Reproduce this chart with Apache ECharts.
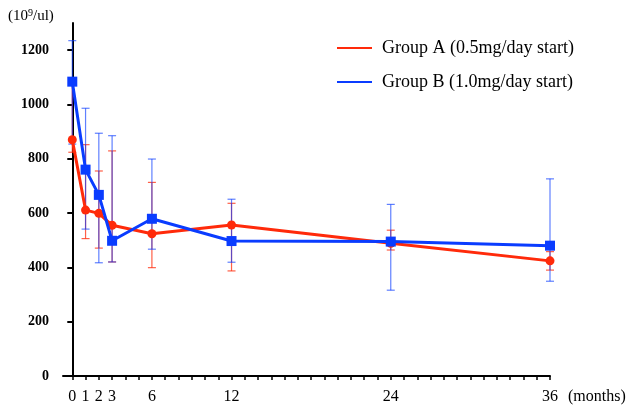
<!DOCTYPE html>
<html>
<head>
<meta charset="utf-8">
<script src="https://cdn.jsdelivr.net/npm/echarts@6/dist/echarts.min.js"></script>
<style>html,body{margin:0;padding:0;background:#fff;}</style>
</head>
<body>
<div id="main" style="width:630px;height:409px;"></div>
<script type="text/javascript">
    // data
    var months = [0, 1, 2, 3, 6, 12, 24, 36];
    var groupA = [870, 611, 599, 555, 524, 556, 489, 424];
    var groupALow = [824, 506, 471, 420, 399, 387, 464, 390];
    var groupAHigh = [1075, 852, 755, 829, 713, 636, 537, 458];
    var groupB = [1084, 760, 667, 498, 579, 497, 495, 480];
    var groupBLow = [854, 541, 417, 420, 467, 419, 316, 349];
    var groupBHigh = [1235, 986, 894, 885, 799, 651, 632, 726];
    var yTicks = [0, 200, 400, 600, 800, 1000, 1200];
    var xTicks = [];
    for (var t = 0; t <= 36; t++) xTicks.push(t);

    var FONT = '"Liberation Serif", "Times New Roman", serif';
    var RED = '#ff2a0a';
    var BLUE = '#0a3cff';

    function errorBars(low, high, color) {
        return {
            type: 'custom',
            silent: true,
            z: 1,
            encode: { x: 0, y: [1, 2] },
            data: months.map(function (m, i) { return [m, low[i], high[i]]; }),
            renderItem: function (params, api) {
                var x = api.value(0);
                var lo = api.coord([x, api.value(1)]);
                var hi = api.coord([x, api.value(2)]);
                var w = 4;
                var st = { stroke: color, lineWidth: 1.2 };
                return {
                    type: 'group',
                    children: [
                        { type: 'line', shape: { x1: lo[0], y1: lo[1], x2: hi[0], y2: hi[1] }, style: st },
                        { type: 'line', shape: { x1: lo[0] - w, y1: lo[1], x2: lo[0] + w, y2: lo[1] }, style: st },
                        { type: 'line', shape: { x1: hi[0] - w, y1: hi[1], x2: hi[0] + w, y2: hi[1] }, style: st }
                    ]
                };
            }
        };
    }

    var myChart = echarts.init(document.getElementById('main'));

    var option = {
        animation: false,
        textStyle: { fontFamily: FONT },
        grid: { left: 63, right: 80, top: 23, bottom: 33 },
        legend: {
            data: ['Group A (0.5mg/day start)', 'Group B (1.0mg/day start)'],
            orient: 'vertical',
            left: 332,
            top: 34,
            icon: 'rect',
            itemWidth: 35,
            itemHeight: 2,
            itemGap: 16,
            textStyle: { fontFamily: FONT, fontSize: 18, color: '#000', padding: [0, 0, 0, 5] }
        },
        graphic: [
            {
                type: 'text', left: 8, top: 8,
                style: {
                    text: '({a|10}{s|9}{a|/ul)}',
                    rich: {
                        a: { fontFamily: FONT, fontSize: 15, fill: '#000' },
                        s: { fontFamily: FONT, fontSize: 10, fill: '#000', verticalAlign: 'top', padding: [0, 0, 6, 0] }
                    },
                    font: '15px ' + FONT, fill: '#000'
                }
            },
            {
                type: 'text', left: 568, top: 389,
                style: { text: '(months)', font: '16px ' + FONT, fill: '#000' }
            }
        ],
        xAxis: {
            type: 'value',
            min: -0.7,
            max: 36,
            splitLine: { show: false },
            axisLine: { onZero: false, lineStyle: { color: '#000', width: 2 } },
            axisTick: { customValues: xTicks, length: 4, lineStyle: { color: '#000', width: 1.5 } },
            axisLabel: { customValues: months, margin: 13, fontSize: 16, color: '#000', fontFamily: FONT }
        },
        yAxis: {
            type: 'value',
            min: 0,
            max: 1300,
            splitLine: { show: false },
            axisLine: { show: true, lineStyle: { color: '#000', width: 2 } },
            axisTick: { show: true, customValues: yTicks, length: 5, lineStyle: { color: '#000', width: 2 } },
            axisLabel: {
                customValues: yTicks, margin: 14, fontSize: 14, fontWeight: 'bold', color: '#000', fontFamily: FONT,
                formatter: function (v) { return String(v); }
            }
        },
        series: [
            errorBars(groupALow, groupAHigh, 'rgba(255,42,10,0.75)'),
            errorBars(groupBLow, groupBHigh, 'rgba(10,60,255,0.65)'),
            {
                name: 'Group A (0.5mg/day start)',
                type: 'line',
                z: 3,
                data: months.map(function (m, i) { return [m, groupA[i]]; }),
                symbol: 'circle',
                symbolSize: 9,
                itemStyle: { color: RED },
                lineStyle: { color: RED, width: 3 }
            },
            {
                name: 'Group B (1.0mg/day start)',
                type: 'line',
                z: 4,
                data: months.map(function (m, i) { return [m, groupB[i]]; }),
                symbol: 'rect',
                symbolSize: 10,
                itemStyle: { color: BLUE },
                lineStyle: { color: BLUE, width: 3 }
            }
        ]
    };

    myChart.setOption(option);
</script>
</body>
</html>
